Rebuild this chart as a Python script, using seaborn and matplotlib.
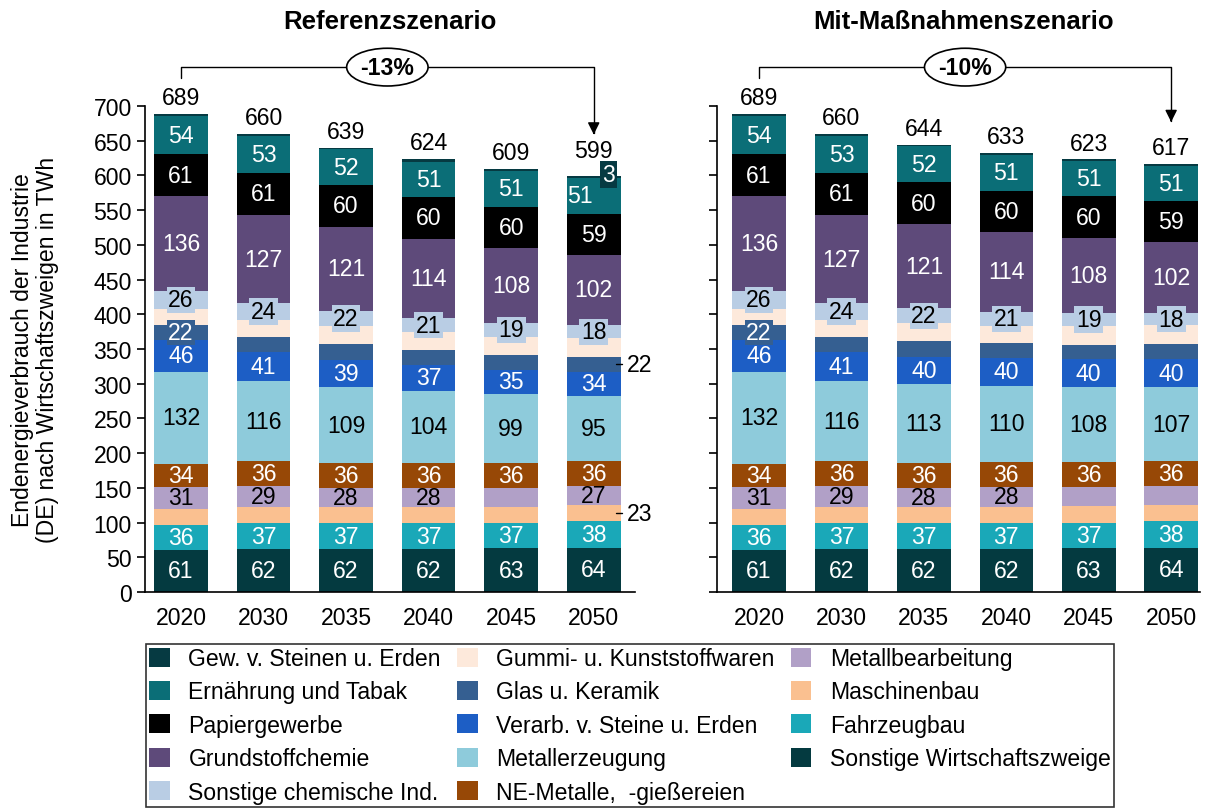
import numpy as np
import matplotlib
matplotlib.use("Agg")
import matplotlib.pyplot as plt
from matplotlib.patches import Patch
import seaborn as sns

sns.set_theme(style="white")
plt.rcParams['font.family'] = ['Liberation Sans', 'DejaVu Sans']
plt.rcParams['text.color'] = 'black'
plt.rcParams['axes.labelcolor'] = 'black'

years = ["2020", "2030", "2035", "2040", "2045", "2050"]

# stack order bottom -> top
series = ["Sonstige Wirtschaftszweige", "Fahrzeugbau", "Maschinenbau", "Metallbearbeitung",
          "NE-Metalle,  -gießereien", "Metallerzeugung", "Verarb. v. Steine u. Erden",
          "Glas u. Keramik", "Gummi- u. Kunststoffwaren", "Sonstige chemische Ind.",
          "Grundstoffchemie", "Papiergewerbe", "Ernährung und Tabak", "Gew. v. Steinen u. Erden"]

colors = ["#043a40", "#1aa8b8", "#fac090", "#b1a0c7", "#974806", "#8ecbdb", "#1d5ec5",
          "#355f91", "#fde9db", "#b9cde4", "#5e4a7a", "#000000", "#0b6e77", "#063a42"]

# Referenzszenario
ref_sonst_wirt = [61, 62, 62, 62, 63, 64]
ref_fahrzeug = [36, 37, 37, 37, 37, 38]
ref_maschinen = [23, 24, 23, 23, 23, 23]
ref_metallbearb = [31, 29, 28, 28, 27, 27]
ref_ne_metalle = [34, 36, 36, 36, 36, 36]
ref_metallerz = [132, 116, 109, 104, 99, 95]
ref_verarb = [46, 41, 39, 37, 35, 34]
ref_glas = [22, 23, 23, 21, 21, 22]
ref_gummi = [23, 24, 26, 26, 27, 27]
ref_sonst_chem = [26, 24, 22, 21, 19, 18]
ref_grundstoff = [136, 127, 121, 114, 108, 102]
ref_papier = [61, 61, 60, 60, 60, 59]
ref_ernaehrung = [54, 53, 52, 51, 51, 51]
ref_gew = [4, 3, 1, 4, 3, 3]

# Mit-Maßnahmenszenario
mms_sonst_wirt = [61, 62, 62, 62, 63, 64]
mms_fahrzeug = [36, 37, 37, 37, 37, 38]
mms_maschinen = [23, 24, 23, 24, 24, 23]
mms_metallbearb = [31, 29, 28, 28, 27, 27]
mms_ne_metalle = [34, 36, 36, 36, 36, 36]
mms_metallerz = [132, 116, 113, 110, 108, 107]
mms_verarb = [46, 41, 40, 40, 40, 40]
mms_glas = [22, 23, 22, 21, 21, 22]
mms_gummi = [23, 24, 26, 25, 27, 27]
mms_sonst_chem = [26, 24, 22, 21, 19, 18]
mms_grundstoff = [136, 127, 121, 114, 108, 102]
mms_papier = [61, 61, 60, 60, 60, 59]
mms_ernaehrung = [54, 53, 52, 51, 51, 51]
mms_gew = [4, 3, 2, 4, 2, 3]

ref = np.array([ref_sonst_wirt, ref_fahrzeug, ref_maschinen, ref_metallbearb, ref_ne_metalle,
                ref_metallerz, ref_verarb, ref_glas, ref_gummi, ref_sonst_chem, ref_grundstoff,
                ref_papier, ref_ernaehrung, ref_gew], dtype=float)
mms = np.array([mms_sonst_wirt, mms_fahrzeug, mms_maschinen, mms_metallbearb, mms_ne_metalle,
                mms_metallerz, mms_verarb, mms_glas, mms_gummi, mms_sonst_chem, mms_grundstoff,
                mms_papier, mms_ernaehrung, mms_gew], dtype=float)

change_labels = ["-13%", "-10%"]
titles = ["Referenzszenario", "Mit-Maßnahmenszenario"]

# label colours per series (None = no inside labels)
label_color = ["white", "white", None, "black", "white", "black", "white",
               "white", None, "black", "white", "white", "white", "white"]

FS = 16.6
W = 0.65

fig = plt.figure(figsize=(12.08, 8.12), dpi=100)
ax_bottom = (812 - 593) / 812
ax_height = (593 - 107) / 812
axL = fig.add_axes([145 / 1208, ax_bottom, 490 / 1208, ax_height])
axR = fig.add_axes([717 / 1208, ax_bottom, 483 / 1208, ax_height])


def draw(ax, data, scen):
    cum = np.cumsum(data, axis=0)
    n = data.shape[0]
    for i in range(n - 1, -1, -1):
        sns.barplot(x=years, y=cum[i], color=colors[i], saturation=1, width=W,
                    ax=ax, errorbar=None, linewidth=0)
    for i in range(n):
        for j in range(len(years)):
            v = data[i, j]
            ymid = cum[i, j] - v / 2
            show = label_color[i] is not None
            name = series[i]
            if name == "Glas u. Keramik":
                show = j == 0
            if name == "Gew. v. Steinen u. Erden":
                show = (scen == 0 and j == 5)
            if name == "Metallbearbeitung":
                show = (j < 4) or (scen == 0 and j == 5)
            if not show:
                continue
            kw = dict(ha="center", va="center", fontsize=FS, color=label_color[i])
            x = j
            if name == "Sonstige chemische Ind.":
                kw["bbox"] = dict(facecolor=colors[i], edgecolor="none", pad=1.2)
            if name == "Glas u. Keramik":
                kw["bbox"] = dict(facecolor=colors[i], edgecolor="none", pad=0.8)
            if name == "Gew. v. Steinen u. Erden":
                kw["bbox"] = dict(facecolor=colors[i], edgecolor="none", pad=1.5)
                x = j + 0.18
                ymid = cum[i, j] + 2
            if name == "Ernährung und Tabak" and scen == 0 and j == 5:
                x = j - 0.17
            ax.text(x, ymid, f"{int(v)}", **kw)
    totals = cum[-1]
    for j in range(len(years)):
        extra = 14 if (scen == 0 and j == 5) else 0
        ax.text(j, totals[j] + 7 + extra, f"{int(totals[j])}", ha="center", va="bottom",
                fontsize=FS, color="black")
    # outside labels for Ref 2050
    if scen == 0:
        for idx in (7, 2):
            j = 5
            y = cum[idx, j] - data[idx, j] / 2
            ax.plot([j + 0.27, j + 0.34], [y, y], color="black", lw=1, clip_on=False)
            ax.text(j + 0.40, y, f"{int(data[idx, j])}", ha="left", va="center",
                    fontsize=FS, color="black", clip_on=False)
    # bracket with arrow
    ytop = 756
    ax.plot([0, 0, 5, 5], [740, ytop, ytop, totals[5] + 62], color="black", lw=1,
            clip_on=False)
    ax.annotate("", xy=(5, totals[5] + 56), xytext=(5, totals[5] + 66),
                arrowprops=dict(arrowstyle="-|>", color="black", lw=1,
                                mutation_scale=18), annotation_clip=False)
    ax.text(2.5, ytop, change_labels[scen], ha="center", va="center", fontsize=FS,
            fontweight="bold",
            bbox=dict(boxstyle="ellipse,pad=0.08", facecolor="white", edgecolor="black",
                      lw=1.2), clip_on=False)

    ax.set_ylim(0, 700)
    ax.set_yticks(np.arange(0, 701, 50))
    ax.set_xlabel("")
    ax.set_ylabel("")
    for s in ("top", "right"):
        ax.spines[s].set_visible(False)
    for s in ("left", "bottom"):
        ax.spines[s].set_color("black")
        ax.spines[s].set_linewidth(1.2)
    ax.tick_params(axis="y", left=True, length=6, width=1.2, direction="out",
                   labelsize=FS, colors="black")
    ax.tick_params(axis="x", bottom=False, labelsize=FS, colors="black", pad=4)
    ax.grid(False)


draw(axL, ref, 0)
draw(axR, mms, 1)
axL.set_xlim(-0.436, 5.5)
axR.set_xlim(-0.51, 5.35)
axR.tick_params(axis="y", labelleft=False)

fig.text(390 / 1208, 1 - 22 / 812, titles[0], ha="center", va="center", fontsize=18.5,
         fontweight="bold")
fig.text(964 / 1208, 1 - 22 / 812, titles[1], ha="center", va="center", fontsize=18.5,
         fontweight="bold")
fig.text(35 / 1208, 1 - 350 / 812,
         "Endenergieverbrauch der Industrie\n(DE) nach Wirtschaftszweigen in TWh",
         rotation=90, ha="center", va="center", fontsize=FS, linespacing=1.1)

order = list(range(len(series) - 1, -1, -1))
handles = [Patch(facecolor=colors[i], edgecolor="none") for i in order]
labels = [series[i] for i in order]
leg = fig.legend(handles, labels, ncol=3, loc="lower center",
                 bbox_to_anchor=(630 / 1208, 4 / 812), frameon=True, fancybox=False,
                 edgecolor="black", fontsize=FS, handlelength=0.9, handleheight=0.9,
                 labelspacing=0.45, columnspacing=0.7, handletextpad=0.8,
                 borderpad=0.15, borderaxespad=0)
leg.get_frame().set_linewidth(1.2)

fig.savefig("out.png", dpi=100)
